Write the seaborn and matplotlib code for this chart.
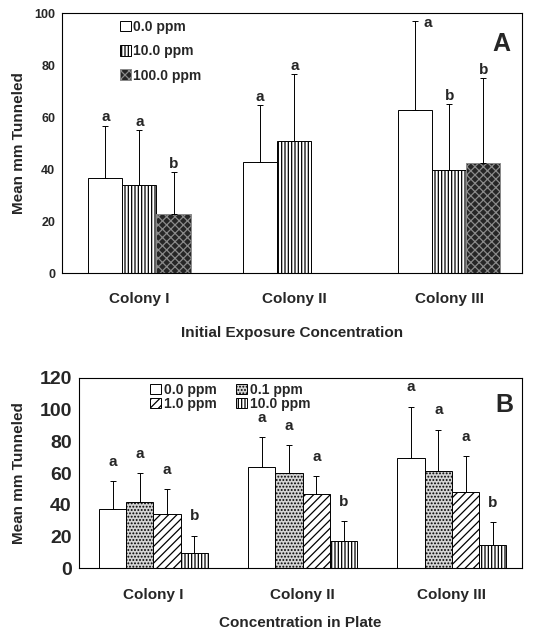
import numpy as np
import pandas as pd
import matplotlib
matplotlib.use("Agg")
import matplotlib.pyplot as plt
import seaborn as sns

# Panel A data
colonies = ["Colony I", "Colony II", "Colony III"]
conc_a = ["0.0 ppm", "10.0 ppm", "100.0 ppm"]
mean_a = [[36.7, 33.7, 22.6],
          [42.8, 50.9, np.nan],
          [62.7, 39.7, 42.4]]
upper_a = [[56.7, 55.0, 38.7],
           [64.7, 76.5, np.nan],
           [97.2, 65.1, 74.9]]
letters_a = [["a", "a", "b"],
             ["a", "a", ""],
             ["a", "b", "b"]]

# Panel B data
conc_b = ["0.0 ppm", "0.1 ppm", "1.0 ppm", "10.0 ppm"]
mean_b = [[37.5, 41.9, 33.9, 9.5],
          [63.8, 60.0, 46.5, 17.3],
          [69.5, 61.5, 47.8, 14.3]]
upper_b = [[54.7, 60.0, 49.7, 20.6],
           [82.7, 77.5, 57.9, 29.7],
           [101.9, 87.4, 70.5, 29.1]]
letters_b = [["a", "a", "a", "b"],
             ["a", "a", "a", "b"],
             ["a", "a", "a", "b"]]

sns.set_style("white")
plt.rcParams["font.family"] = ["Liberation Sans", "DejaVu Sans"]
plt.rcParams["font.weight"] = "bold"
plt.rcParams["hatch.linewidth"] = 0.9


def to_frame(means, uppers, letters, levels):
    rows = []
    for i, col in enumerate(colonies):
        for j, lev in enumerate(levels):
            rows.append({"colony": col, "conc": lev, "mean": means[i][j],
                         "upper": uppers[i][j], "letter": letters[i][j]})
    return pd.DataFrame(rows)


def draw_panel(ax, df, levels, styles, width, letter_pad, ymax, yticks, tick_fs):
    palette = {lev: styles[lev][0] for lev in levels}
    sns.barplot(data=df.dropna(subset=["mean"]), x="colony", y="mean", hue="conc",
                order=colonies, hue_order=levels, palette=palette, saturation=1,
                width=width, errorbar=None, edgecolor="black", linewidth=0.7,
                legend=False, ax=ax)
    for lev, cont in zip(levels, ax.containers):
        sub = df[(df["conc"] == lev) & df["mean"].notna()]
        for bar, (_, row) in zip(cont.patches, sub.iterrows()):
            bar.set_hatch(styles[lev][1])
            bar.set_edgecolor(styles[lev][2])
            xc = bar.get_x() + bar.get_width() / 2
            ax.errorbar([xc], [row["mean"]], yerr=[[0], [row["upper"] - row["mean"]]],
                        fmt="none", ecolor="black", elinewidth=0.7, capsize=2, capthick=0.7)
            ty = row["upper"]
            dx = 0
            if ty > ymax * 0.93:
                dx, ty = 9, ymax * 0.93
            ax.annotate(row["letter"], (xc, ty), xytext=(dx, letter_pad),
                        textcoords="offset points", ha="center", va="bottom",
                        fontsize=11, fontweight="bold")
    ax.set_ylim(0, ymax)
    ax.set_yticks(yticks)
    ax.set_xlim(-0.5, 2.47)
    ax.tick_params(axis="y", length=2, labelsize=tick_fs, pad=3)
    ax.tick_params(axis="x", length=0, labelsize=11, pad=14)
    for s in ax.spines.values():
        s.set_color("black")
        s.set_linewidth(0.8)


fig = plt.figure(figsize=(5.36, 6.32), dpi=100)

# Panel A
ax_a = fig.add_axes([0.1157, 0.568, 0.858, 0.411])
styles_a = {"0.0 ppm": ("white", "", "black"),
            "10.0 ppm": ("white", "|||||", "black"),
            "100.0 ppm": ("#262626", "xxxx", "#8a8a8a")}
df_a = to_frame(mean_a, upper_a, letters_a, conc_a)
draw_panel(ax_a, df_a, conc_a, styles_a, 0.66, 1, 100, [0, 20, 40, 60, 80, 100], 9)
ax_a.set_ylabel("Mean mm Tunneled", fontsize=11, fontweight="bold", labelpad=6)
ax_a.set_xlabel("Initial Exposure Concentration", fontsize=11, fontweight="bold", labelpad=14)
ax_a.legend(ax_a.containers, conc_a, loc="upper left", bbox_to_anchor=(0.125, 0.975),
            frameon=False, fontsize=10, handlelength=0.8, handleheight=0.8,
            handletextpad=0.2, labelspacing=0.75, borderpad=0, borderaxespad=0)
ax_a.text(0.955, 0.88, "A", transform=ax_a.transAxes, fontsize=18,
          fontweight="bold", ha="center", va="center")

# Panel B
ax_b = fig.add_axes([0.147, 0.101, 0.827, 0.301])
styles_b = {"0.0 ppm": ("white", "", "black"),
            "0.1 ppm": ("#d4d4d4", ".....", "black"),
            "1.0 ppm": ("white", "////", "black"),
            "10.0 ppm": ("white", "|||||", "black")}
df_b = to_frame(mean_b, upper_b, letters_b, conc_b)
draw_panel(ax_b, df_b, conc_b, styles_b, 0.73, 9, 120, [0, 20, 40, 60, 80, 100, 120], 14)
ax_b.set_ylabel("Mean mm Tunneled", fontsize=11, fontweight="bold", labelpad=10)
ax_b.set_xlabel("Concentration in Plate", fontsize=11, fontweight="bold", labelpad=10)
hb = dict(zip(conc_b, ax_b.containers))
order_b = ["0.0 ppm", "1.0 ppm", "0.1 ppm", "10.0 ppm"]
ax_b.legend([hb[k] for k in order_b], order_b, ncol=2, loc="upper left",
            bbox_to_anchor=(0.16, 0.975), frameon=False, fontsize=10,
            handlelength=0.8, handleheight=0.8, handletextpad=0.2,
            labelspacing=0.0, columnspacing=1.4, borderpad=0, borderaxespad=0)
ax_b.text(0.96, 0.86, "B", transform=ax_b.transAxes, fontsize=18,
          fontweight="bold", ha="center", va="center")

fig.savefig("out.png", dpi=100)
